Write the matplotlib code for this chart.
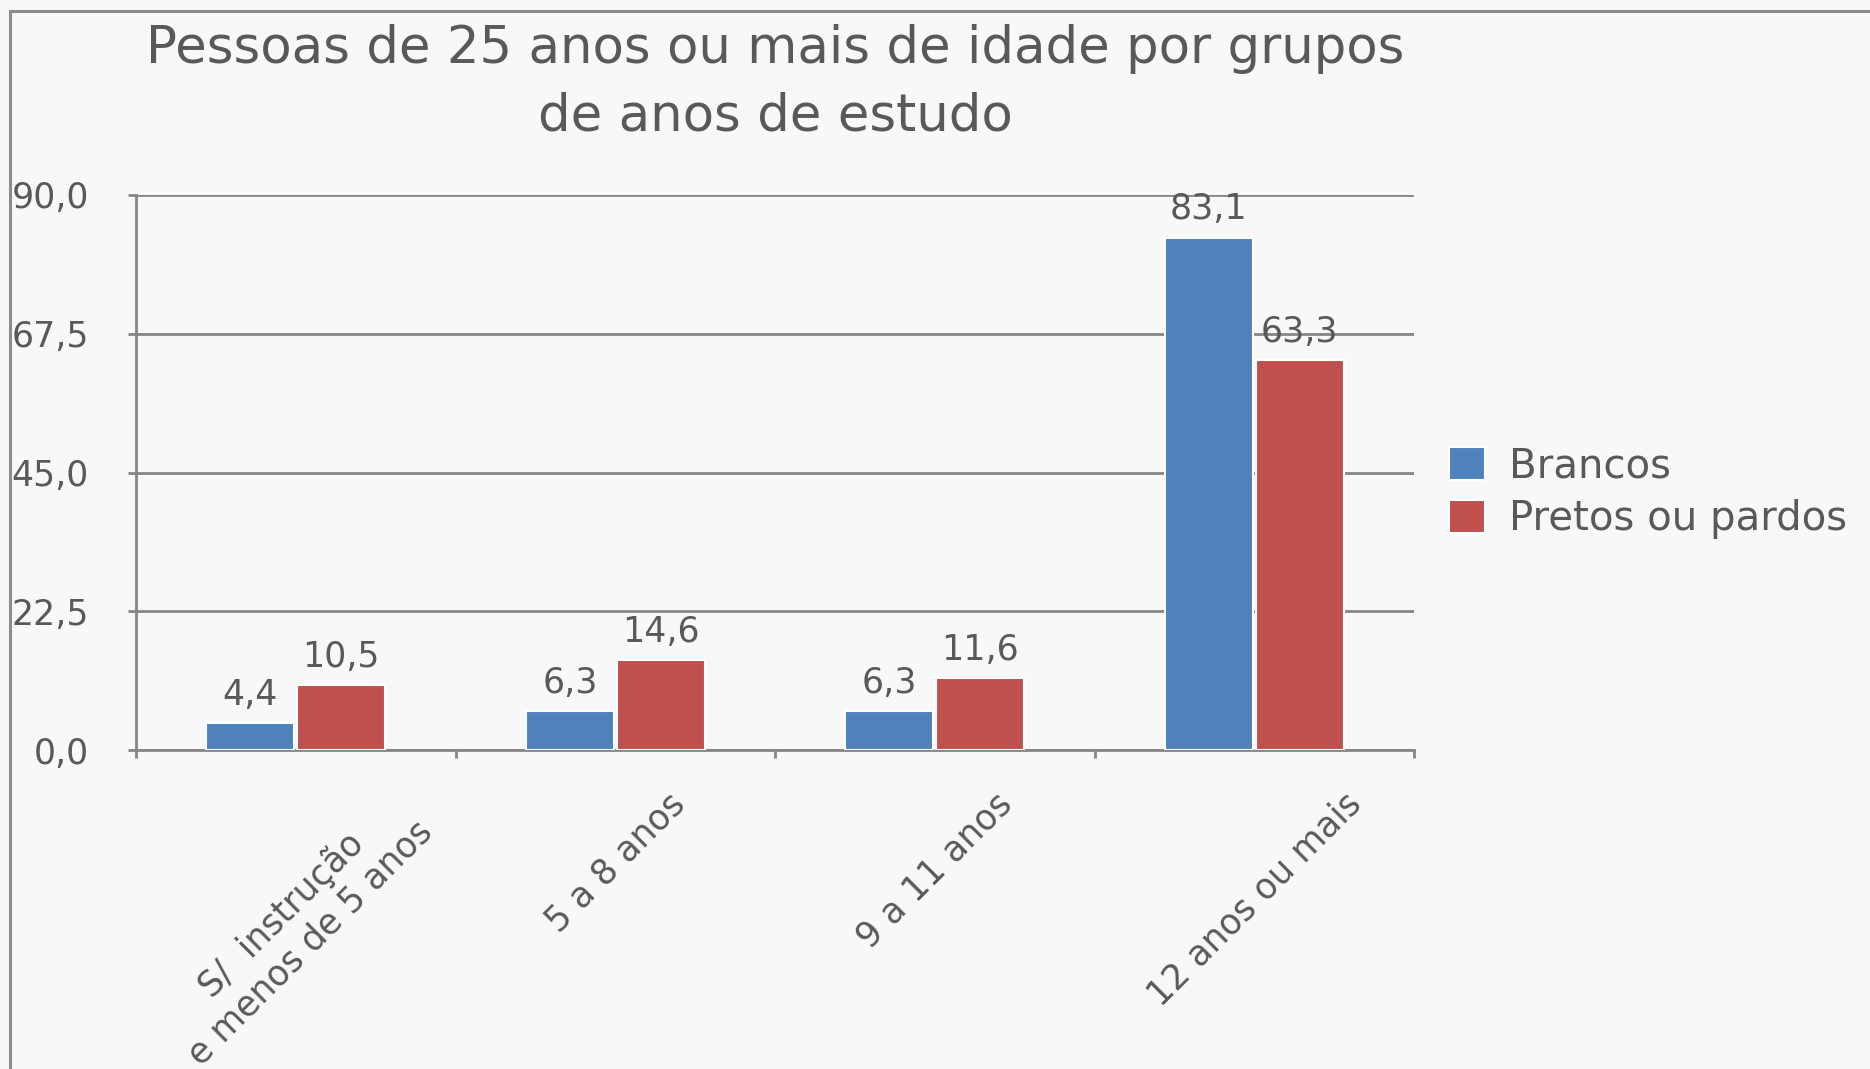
import matplotlib
matplotlib.use('Agg')
import matplotlib.pyplot as plt
import numpy as np
from matplotlib.patches import Rectangle

plt.rcParams['font.family'] = ['DejaVu Sans']

# dados
categorias = ['S/  instrução\ne menos de 5 anos', '5 a 8 anos', '9 a 11 anos', '12 anos ou mais']
brancos = [4.4, 6.3, 6.3, 83.1]
pretos_pardos = [10.5, 14.6, 11.6, 63.3]
series_nomes = ['Brancos', 'Pretos ou pardos']
yticks = [0.0, 22.5, 45.0, 67.5, 90.0]

cor_azul = '#4F81BD'
cor_vermelho = '#C0504D'
cor_texto = '#595959'
cor_linha = '#868686'
fundo = '#F8F8F8'

fig = plt.figure(figsize=(18.7, 10.69), dpi=100, facecolor=fundo)

# moldura externa
fig.patches.append(Rectangle((10/1870, -0.1), 1.2, 1.1 - 11/1069, transform=fig.transFigure,
                             fill=False, edgecolor='#8C8C8C', linewidth=2.2))

ax = fig.add_axes([136/1870, 1 - 750/1069, 1278/1870, 555/1069])
ax.set_facecolor(fundo)

x = np.arange(len(categorias))
w = 0.275
off = 0.142
b1 = ax.bar(x - off, brancos, w, color=cor_azul, edgecolor='white', linewidth=1.5, zorder=3)
b2 = ax.bar(x + off, pretos_pardos, w, color=cor_vermelho, edgecolor='white', linewidth=1.5, zorder=3)

for bars, vals in ((b1, brancos), (b2, pretos_pardos)):
    for bar, v in zip(bars, vals):
        ax.annotate(f'{v:.1f}'.replace('.', ','), (bar.get_x() + bar.get_width()/2, v),
                    xytext=(0, 8), textcoords='offset points', ha='center', va='bottom',
                    fontsize=25, color=cor_texto, zorder=4)

ax.set_xlim(-0.5, 3.5)
ax.set_ylim(0, 90)
ax.set_yticks(yticks)
ax.set_yticklabels([f'{v:.1f}'.replace('.', ',') for v in yticks])
ax.yaxis.grid(True, color=cor_linha, linewidth=2, zorder=0)
ax.set_axisbelow(True)

ax.set_xticks(x)
ax.set_xticklabels(categorias, rotation=45, ha='center', va='top', multialignment='center')
ax.set_xticks(np.arange(-0.5, 4, 1), minor=True)
ax.tick_params(axis='x', which='major', length=0, pad=26, labelsize=25, labelcolor=cor_texto)
ax.tick_params(axis='x', which='minor', length=6, width=2, color=cor_linha)
ax.tick_params(axis='y', length=6, width=2, color=cor_linha, pad=28, labelsize=25, labelcolor=cor_texto)

for s in ('top', 'right'):
    ax.spines[s].set_visible(False)
for s in ('left', 'bottom'):
    ax.spines[s].set_color(cor_linha)
    ax.spines[s].set_linewidth(2)

fig.text(775/1870, 1 - 24/1069, 'Pessoas de 25 anos ou mais de idade por grupos\nde anos de estudo',
         ha='center', va='top', multialignment='center', fontsize=37, color=cor_texto, linespacing=1.45)

fig.legend(handles=[b1, b2], labels=series_nomes, loc='center left',
           bbox_to_anchor=(1449/1870, 1 - 493/1069), frameon=False, fontsize=29,
           handlelength=0.9, handleheight=0.9, handletextpad=0.6, labelspacing=0.32,
           borderpad=0, borderaxespad=0, labelcolor=cor_texto)

plt.savefig('out.png', dpi=100, facecolor=fundo)
